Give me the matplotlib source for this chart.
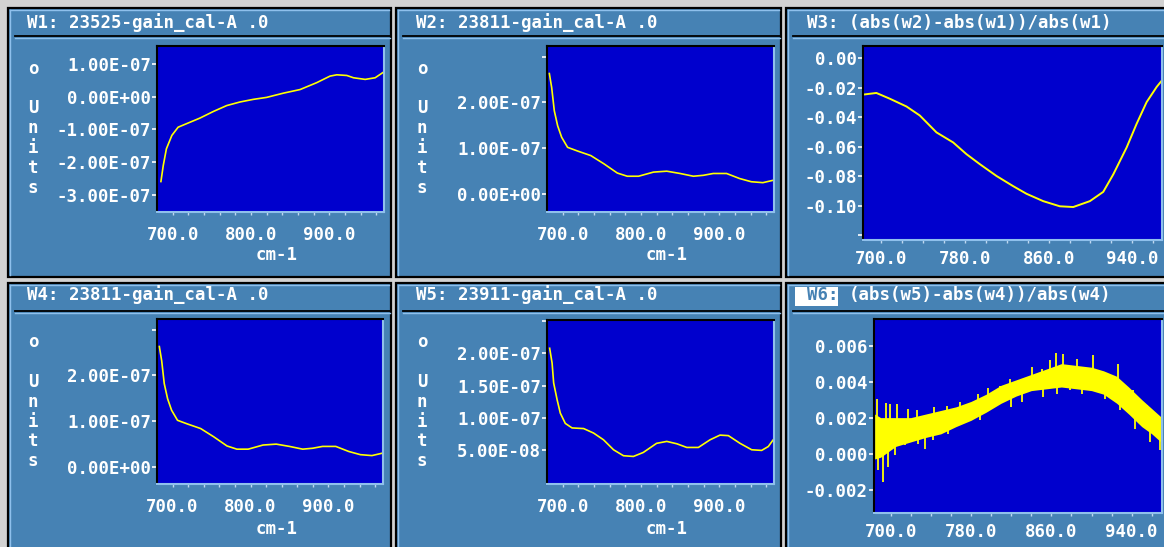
import matplotlib
matplotlib.use("Agg")
import matplotlib.pyplot as plt
from matplotlib.patches import Rectangle
from matplotlib.lines import Line2D

# ---------------- data ----------------
w1_x = [685, 688, 692, 699, 707, 718, 735, 752, 769, 786, 803, 820, 841.5, 862.8, 884, 901, 909.7, 922.5, 931, 946, 958.7, 969.3]
w1_y = [-2.59e-7, -2.10e-7, -1.59e-7, -1.18e-7, -0.93e-7, -0.82e-7, -0.65e-7, -0.45e-7, -0.27e-7, -0.16e-7,
        -0.08e-7, -0.02e-7, 0.11e-7, 0.22e-7, 0.43e-7, 0.63e-7, 0.67e-7, 0.65e-7, 0.58e-7, 0.53e-7, 0.58e-7, 0.75e-7]

w2_x = [683, 686, 689.3, 693.6, 698.7, 706.3, 719, 736, 752.8, 769.8, 782.5, 797, 816, 833, 850, 867, 879.7,
        892.4, 909.4, 926, 941, 955.8, 968.5]
w2_y = [2.63e-7, 2.32e-7, 1.82e-7, 1.49e-7, 1.24e-7, 1.02e-7, 0.94e-7, 0.84e-7, 0.66e-7, 0.46e-7, 0.39e-7,
        0.39e-7, 0.48e-7, 0.50e-7, 0.45e-7, 0.39e-7, 0.41e-7, 0.45e-7, 0.45e-7, 0.34e-7, 0.27e-7, 0.25e-7, 0.30e-7]

w3_x = [684, 695.2, 708, 724, 736.7, 752.7, 768.6, 781.4, 794.2, 810.1, 826, 838.8, 854.8, 870.7, 883.5,
        899.4, 912.2, 921.8, 934.6, 944.1, 953.7, 963.3, 969]
w3_y = [-0.0245, -0.0235, -0.0274, -0.0327, -0.0388, -0.0503, -0.0571, -0.0651, -0.0719, -0.0799, -0.0868,
        -0.0920, -0.0970, -0.1005, -0.1010, -0.0970, -0.0907, -0.0788, -0.0605, -0.0445, -0.0297, -0.0194, -0.0144]

# W4 is the same file as W2 (23811)
w4_x = w2_x
w4_y = w2_y

w5_x = [683.4, 686.5, 688.5, 692.9, 697, 703.4, 712, 726.8, 739.5, 752.2, 765, 777.7, 790.4, 803, 820, 833,
        845.9, 858.6, 873.4, 888.3, 901, 911.7, 926.6, 941.5, 954.2, 962.7, 969]
w5_y = [2.08e-7, 1.85e-7, 1.54e-7, 1.28e-7, 1.07e-7, 0.91e-7, 0.84e-7, 0.83e-7, 0.76e-7, 0.655e-7, 0.50e-7,
        0.407e-7, 0.396e-7, 0.458e-7, 0.60e-7, 0.63e-7, 0.593e-7, 0.536e-7, 0.536e-7, 0.655e-7, 0.728e-7,
        0.72e-7, 0.60e-7, 0.50e-7, 0.49e-7, 0.55e-7, 0.655e-7]

# W6: noisy ratio -> dense band (upper / lower envelope) plus individual spikes
w6_band_x = [684, 690, 705, 720, 735, 750, 765, 780, 795, 810, 825, 840, 855, 870, 885, 900, 912, 925, 937, 950, 960, 970]
w6_band_hi = [0.0022, 0.0020, 0.0020, 0.0020, 0.0022, 0.0024, 0.0026, 0.0029, 0.0033, 0.0038, 0.0041, 0.0044,
              0.0047, 0.0050, 0.0049, 0.0048, 0.0046, 0.0043, 0.0037, 0.0030, 0.0025, 0.0020]
w6_band_lo = [-0.0003, -0.0002, 0.0004, 0.00065, 0.0009, 0.0011, 0.0015, 0.00185, 0.0023, 0.0028, 0.0032, 0.0035,
              0.0036, 0.0037, 0.0036, 0.0035, 0.0033, 0.0028, 0.0022, 0.0015, 0.0011, 0.0006]
w6_spike_x = [686.1, 695.4, 699.4, 706.0, 717.6, 725.9, 743.1, 755.8, 769.0, 787.3, 797.2, 808.8, 818.8, 828.7,
              841.0, 850.3, 858.6, 864.6, 871.9, 885.2, 901.1, 926.7, 941.6, 954.9,
              687.7, 692.6, 697.6, 704.3, 714.2, 727.0, 734.2, 742.5, 757.5, 789.0, 820.0, 830.4, 852.0, 865.3,
              878.6, 890.2, 903.0, 913.5, 928.4, 943.0, 958.2, 968.2]
w6_spike_base = [0.0010, 0.0009, 0.0010, 0.0012, 0.0013, 0.0014, 0.0017, 0.0019, 0.0021, 0.0026, 0.0028, 0.0033,
                 0.0035, 0.0037, 0.0040, 0.0041, 0.0042, 0.0043, 0.0043, 0.0043, 0.0041, 0.0035, 0.0029, 0.0022,
                 0.0010, 0.0009, 0.0010, 0.0011, 0.0013, 0.0014, 0.0015, 0.0017, 0.0019, 0.0026, 0.0035, 0.0037,
                 0.0041, 0.0043, 0.0043, 0.0042, 0.0041, 0.0039, 0.0034, 0.0029, 0.0019, 0.0014]
w6_spike_tip = [0.00306, 0.00281, 0.00274, 0.00274, 0.00246, 0.00241, 0.00259, 0.00263, 0.00287, 0.00333, 0.00365,
                0.00374, 0.00417, 0.00398, 0.00481, 0.00472, 0.00518, 0.00559, 0.00555, 0.00528, 0.00550, 0.00500,
                0.00352, 0.00268,
                -0.00093, -0.00157, -0.00074, -0.00009, 0.00046, 0.00055, 0.00028, 0.00074, 0.00111, 0.00185,
                0.00259, 0.00287, 0.00315, 0.00333, 0.00352, 0.00333, 0.00389, 0.00306, 0.00241, 0.00139,
                0.00065, 0.00018]

titles = ["W1: 23525-gain_cal-A .0", "W2: 23811-gain_cal-A .0", "W3: (abs(w2)-abs(w1))/abs(w1)",
          "W4: 23811-gain_cal-A .0", "W5: 23911-gain_cal-A .0", "W6: (abs(w5)-abs(w4))/abs(w4)"]

yt_w1 = [-3e-7, -2e-7, -1e-7, 0.0, 1e-7]
yt_w2 = [0.0, 1e-7, 2e-7, 3e-7]
yt_w5 = [0.5e-7, 1.0e-7, 1.5e-7, 2.0e-7, 2.5e-7]
yt_w3 = [-0.12, -0.10, -0.08, -0.06, -0.04, -0.02, 0.0]
yt_w6 = [-0.002, 0.0, 0.002, 0.004, 0.006]
xlab_a = [700, 800, 900]
xlab_b = [700, 780, 860, 940]
xt_all = list(range(700, 961, 20))

# ---------------- style ----------------
W, H = 1164, 547
BG = "#d2d2d2"
PANEL = "#4682b4"
PLOT = "#0000cd"
LIGHT = "#8fc0ec"
YEL = "#ffff00"
FS = 12.5
plt.rcParams["font.family"] = ["DejaVu Sans Mono", "DejaVu Sans"]
plt.rcParams["font.weight"] = "bold"

fig = plt.figure(figsize=(W / 100, H / 100), dpi=100, facecolor=BG)


def frect(x0, y0, x1, y1):
    return [x0 / W, 1 - y1 / H, (x1 - x0) / W, (y1 - y0) / H]


def fline(x0, y0, x1, y1, color, lw):
    fig.add_artist(Line2D([x0 / W, x1 / W], [1 - y0 / H, 1 - y1 / H], color=color, lw=lw,
                          transform=fig.transFigure, zorder=-1))


panels = [(8, 8, 391, 277), (396, 8, 781, 277), (786, 8, 1175, 277),
          (8, 283, 391, 560), (396, 283, 781, 560), (786, 283, 1175, 560)]
for (x0, y0, x1, y1) in panels:
    r = frect(x0, y0, x1, y1)
    fig.add_artist(Rectangle((r[0], r[1]), r[2], r[3], facecolor=PANEL, edgecolor="black", lw=1.6,
                             transform=fig.transFigure, zorder=-2))
    fline(x0 + 2, y0 + 2, x1 - 2, y0 + 2, LIGHT, 1.0)
    fline(x0 + 2, y0 + 2, x0 + 2, y1 - 2, LIGHT, 1.0)
    fline(x0 + 7, y0 + 28, x1 - 1, y0 + 28, "black", 1.3)
    fline(x0 + 7, y0 + 29.5, x1 - 1, y0 + 29.5, LIGHT, 1.0)

# titles
title_pos = [(27, 28), (416, 28), (806.7, 28), (27, 300.5), (416, 300.5), (806.7, 300.5)]
for i, (t, (tx, ty)) in enumerate(zip(titles, title_pos)):
    if i == 5:
        r = frect(795, 287, 838, 306)
        fig.add_artist(Rectangle((r[0], r[1]), r[2], r[3], facecolor="white", edgecolor="none",
                                 transform=fig.transFigure, zorder=-1))
        fig.text(tx / W, 1 - ty / H, t[:3], color=PANEL, fontsize=FS, ha="left", va="baseline")
        fig.text((tx + 4 * 10.45) / W, 1 - ty / H, t[4:], color="white", fontsize=FS, ha="left", va="baseline")
    else:
        fig.text(tx / W, 1 - ty / H, t, color="white", fontsize=FS, ha="left", va="baseline")

# stacked "o Units" labels and "cm-1" labels
ychars = ["o", "U", "n", "i", "t", "s"]
ybase_top = [74, 113.3, 133.3, 153.3, 172.9, 192.7]
for cx, dy in [(33, 0), (422, 0), (33, 273.3), (422, 273.3)]:
    for ch, by in zip(ychars, ybase_top):
        fig.text(cx / W, 1 - (by + dy) / H, ch, color="white", fontsize=FS, ha="center", va="baseline")
for cx, by in [(276.7, 260.5), (667, 260.5), (276.7, 533.5), (667, 533.5)]:
    fig.text(cx / W, 1 - by / H, "cm-1", color="white", fontsize=FS, ha="center", va="baseline")


def make_axes(box, xlim, ylim, yticks, yfmt, ylab_skip, xlabels, xpad):
    ax = fig.add_axes(frect(*box))
    ax.set_facecolor(PLOT)
    for s in ("left", "top"):
        ax.spines[s].set_color("black")
        ax.spines[s].set_linewidth(1.5)
    for s in ("right", "bottom"):
        ax.spines[s].set_color(LIGHT)
        ax.spines[s].set_linewidth(1.5)
    ax.set_xlim(*xlim)
    ax.set_ylim(*ylim)
    ax.set_xticks(xt_all)
    ax.set_xticklabels([("%.1f" % v if v in xlabels else "") for v in xt_all])
    ax.set_yticks(yticks)
    ax.set_yticklabels([("" if v in ylab_skip else (yfmt % v).replace("\u2212", "-")) for v in yticks])
    ax.tick_params(axis="x", direction="out", length=2.3, width=1.0, color="#c0d8f0",
                   labelcolor="white", labelsize=FS, pad=xpad)
    ax.tick_params(axis="y", direction="out", length=3.6, width=1.2, color="white",
                   labelcolor="white", labelsize=FS, pad=0.8)
    return ax


ax1 = make_axes((157, 46, 384, 212), (680, 970), (-3.52e-7, 1.55e-7), yt_w1, "%.2E", [], xlab_a, 7.5)
ax1.plot(w1_x, w1_y, color=YEL, lw=1.2)

ax2 = make_axes((547, 46, 774, 212), (680, 970), (-0.39e-7, 3.23e-7), yt_w2, "%.2E", [3e-7], xlab_a, 7.5)
ax2.plot(w2_x, w2_y, color=YEL, lw=1.2)

ax3 = make_axes((863, 46, 1162, 240), (682.4, 968.4), (-0.1234, 0.0084), yt_w3, "%.2f", [-0.12], xlab_b, 4.8)
ax3.plot(w3_x, w3_y, color=YEL, lw=1.4)

ax4 = make_axes((157, 319, 383, 484), (680, 970), (-0.37e-7, 3.23e-7), yt_w2, "%.2E", [3e-7], xlab_a, 8.0)
ax4.plot(w4_x, w4_y, color=YEL, lw=1.2)

ax5 = make_axes((547, 320, 774, 484), (680, 970), (-0.033e-7, 2.52e-7), yt_w5, "%.2E", [2.5e-7], xlab_a, 8.0)
ax5.plot(w5_x, w5_y, color=YEL, lw=1.2)

ax6 = make_axes((874, 319, 1162, 513), (683.4, 970.2), (-0.0033, 0.00748), yt_w6, "%.3f", [], xlab_b, 4.8)
ax6.fill_between(w6_band_x, w6_band_lo, w6_band_hi, color=YEL, lw=0)
ax6.vlines(w6_spike_x, w6_spike_base, w6_spike_tip, color=YEL, lw=1.3)

fig.savefig("out.png", dpi=100, facecolor=BG)
